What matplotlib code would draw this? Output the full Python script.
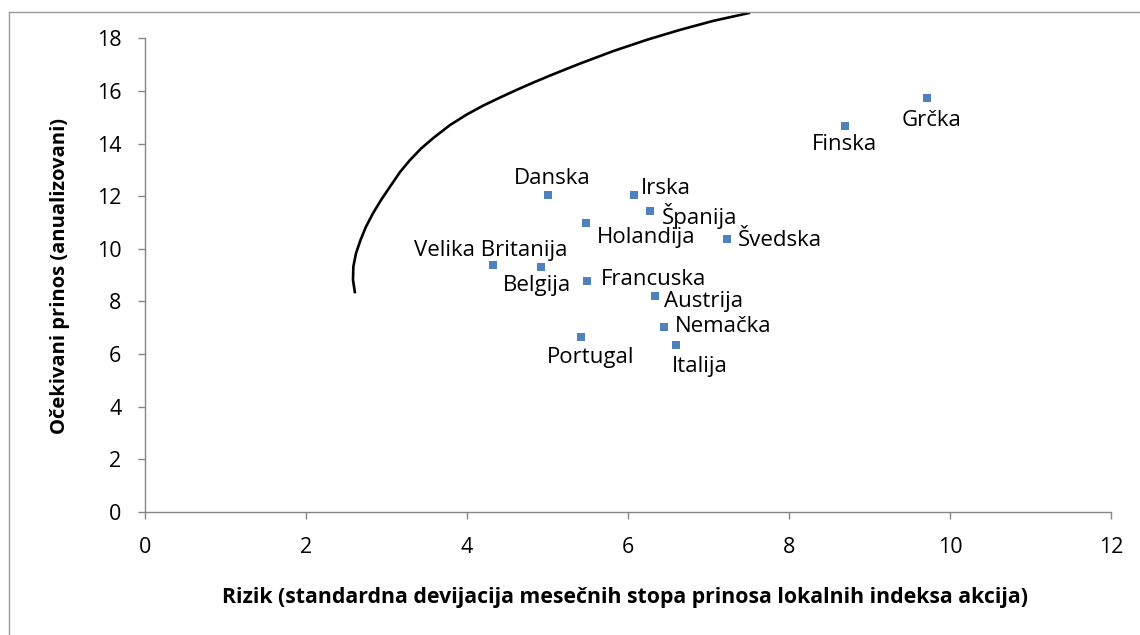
import matplotlib
matplotlib.use("Agg")
import matplotlib.pyplot as plt
from matplotlib.lines import Line2D

# --- data ---
countries = ["Danska", "Velika Britanija", "Belgija", "Irska", "Španija",
             "Holandija", "Švedska", "Francuska", "Austrija", "Nemačka",
             "Italija", "Portugal", "Finska", "Grčka"]
risk = [5.00, 4.32, 4.92, 6.07, 6.27, 5.48, 7.23, 5.49, 6.34, 6.45,
        6.60, 5.42, 8.69, 9.72]
expected_return = [12.04, 9.38, 9.30, 12.04, 11.44, 10.97, 10.36, 8.78,
                   8.21, 7.04, 6.34, 6.66, 14.65, 15.72]

# efficient frontier, points
frontier_risk = [2.609, 2.584, 2.588, 2.621, 2.677, 2.745, 2.832, 2.932,
                 3.043, 3.168, 3.292, 3.429, 3.581, 3.789, 3.996, 4.202,
                 4.410, 4.617, 4.824, 5.031, 5.238, 5.404, 5.817, 6.232,
                 6.646, 7.060, 7.516]
frontier_return = [8.309, 8.815, 9.320, 9.829, 10.334, 10.840, 11.349, 11.854,
                   12.359, 12.918, 13.374, 13.811, 14.210, 14.704, 15.103,
                   15.445, 15.749, 16.041, 16.319, 16.584, 16.839, 17.040,
                   17.515, 17.941, 18.321, 18.663, 18.971]

x_ticks = [0, 2, 4, 6, 8, 10, 12]
y_ticks = [0, 2, 4, 6, 8, 10, 12, 14, 16, 18]

x_title = "Rizik (standardna devijacija mesečnih stopa prinosa lokalnih indeksa akcija)"
y_title = "Očekivani prinos (anualizovani)"

# label placement: (dx, dy) in pixels from the marker, horizontal alignment
label_place = {
    "Danska": (5, 17, "center"),
    "Velika Britanija": (-2, 15, "center"),
    "Belgija": (-4, -18, "center"),
    "Irska": (7, 7, "left"),
    "Španija": (12, -5, "left"),
    "Holandija": (11, -14, "left"),
    "Švedska": (11, -1, "left"),
    "Francuska": (14, 1, "left"),
    "Austrija": (9, -6, "left"),
    "Nemačka": (11, 0, "left"),
    "Italija": (24, -21, "center"),
    "Portugal": (9, -21, "center"),
    "Finska": (0, -18, "center"),
    "Grčka": (4, -22, "center"),
}

AXIS_GREY = "#868686"
MARKER_BLUE = "#4F81BD"
FONT = "Open Sans"

fig = plt.figure(figsize=(11.4, 6.35), dpi=100)
W, H = 1140, 635
x0_px, x1_px = 145, 1111
y0_px, ytop_px = 512, 12
ax = fig.add_axes([x0_px / W, 1 - y0_px / H, (x1_px - x0_px) / W, (y0_px - ytop_px) / H])

ax.plot(frontier_risk, frontier_return, color="black", lw=1.9,
        solid_joinstyle="round", solid_capstyle="butt", zorder=2)
ax.scatter(risk, expected_return, marker="s", s=38, color=MARKER_BLUE,
           linewidths=0, zorder=3)

for name, xv, yv in zip(countries, risk, expected_return):
    dx, dy, ha = label_place[name]
    ax.annotate(name, (xv, yv), xytext=(dx, dy), textcoords="offset pixels",
                ha=ha, va="center", fontsize=16, family=FONT, color="black",
                zorder=4)

ax.set_xlim(0, 12)
ax.set_ylim(0, 19.0)
ax.set_xticks(x_ticks)
ax.set_yticks(y_ticks)
ax.set_xticklabels([str(t) for t in x_ticks])
ax.set_yticklabels([str(t) for t in y_ticks])

for side in ("top", "right"):
    ax.spines[side].set_visible(False)
for side in ("left", "bottom"):
    ax.spines[side].set_color(AXIS_GREY)
    ax.spines[side].set_linewidth(1.0)
ax.spines["left"].set_bounds(0, 18)

ax.tick_params(axis="both", direction="out", length=5, width=1.0,
               color=AXIS_GREY, labelsize=15.5, labelcolor="black")
ax.tick_params(axis="x", pad=13)
ax.tick_params(axis="y", pad=12)
for lbl in ax.get_xticklabels() + ax.get_yticklabels():
    lbl.set_family(FONT)

ax.set_xlabel(x_title, fontsize=15.3, fontweight="bold", family=FONT)
ax.set_ylabel(y_title, fontsize=14.5, fontweight="bold", family=FONT)
ax.xaxis.set_label_coords(0.497, -0.150)
ax.yaxis.set_label_coords(-0.078, 0.472)

# chart-area border (only top and left edges are visible in the screenshot)
fig.add_artist(Line2D([9 / W, 1.0], [1 - 12 / H, 1 - 12 / H], color="#9a9a9a", lw=1.0))
fig.add_artist(Line2D([9 / W, 9 / W], [0.0, 1 - 12 / H], color="#9a9a9a", lw=1.0))

fig.savefig("out.png", dpi=100, facecolor="white")
